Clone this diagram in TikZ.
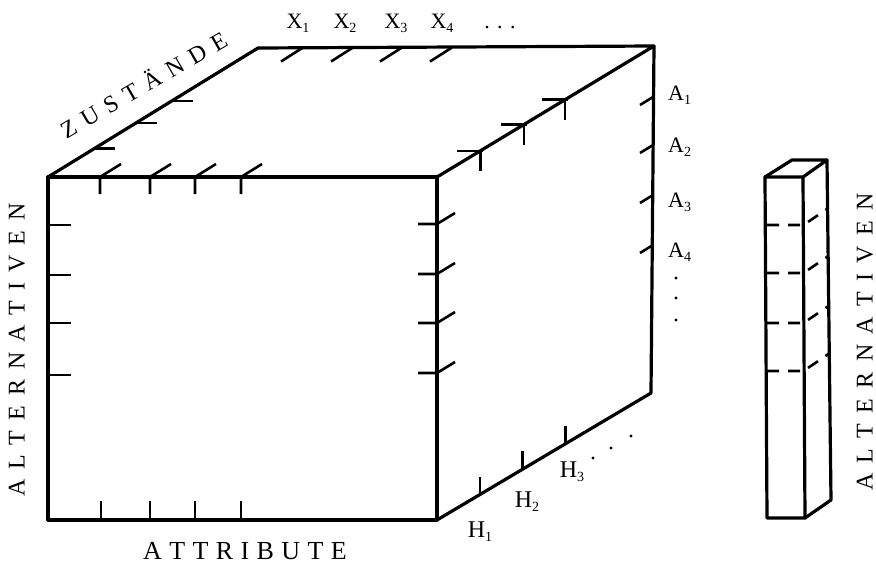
\documentclass[tikz,border=0pt]{standalone}
\usepackage{fontspec}
\setmainfont{Liberation Serif}
\usetikzlibrary{calc}
\newdimen\trk
\def\tracked#1{\trackedi#1\relax\unkern}
\def\trackedi#1{\ifx#1\relax\else#1\kern\trk\expandafter\trackedi\fi}
\newcommand\subs[1]{\raisebox{-4pt}{\fontsize{14}{14}\selectfont#1}}
\begin{document}
\begin{tikzpicture}[x=1pt,y=-1pt,
  edge/.style={line width=3.2pt,line join=round,line cap=round},
  tick/.style={line width=2.6pt,line join=round},
  dashedline/.style={line width=2.6pt,dash pattern=on 12pt off 9pt},
  lbl/.style={font=\fontsize{22}{22}\selectfont,inner sep=0pt},
  hlbl/.style={font=\fontsize{24}{24}\selectfont,inner sep=0pt},
  title/.style={font=\fontsize{24}{24}\selectfont,inner sep=0pt},
  dotmark/.style={fill=black,circle,inner sep=0pt,minimum size=3.4pt}]
\useasboundingbox (0,0) rectangle (876,563);
% cube corners
\coordinate (FTL) at (48,177);
\coordinate (FTR) at (437,177);
\coordinate (FBL) at (48,520);
\coordinate (FBR) at (437,520);
\coordinate (BTL) at (258,48);
\coordinate (BTR) at (654,46);
\coordinate (BBR) at (651,393);
% cube faces
\draw[edge] (FTL) -- (FTR) -- (FBR) -- (FBL) -- cycle;
\draw[edge] (FTL) -- (BTL) -- (BTR) -- (FTR);
\draw[edge] (BTR) -- (BBR) -- (FBR);
% front top ticks
\foreach \x in {100,150,195,241}
  \draw[tick] (\x,194) -- (\x,177) -- ++(21,-13);
% front bottom ticks
\foreach \x in {101,150,195,241}
  \draw[tick] (\x,520) -- (\x,501);
% front left ticks
\foreach \y in {225,275,323,375}
  \draw[tick] (48,\y) -- (71,\y);
% front right ticks
\foreach \y in {224,274,323,373}
  \draw[tick] (418,\y) -- (437,\y) -- ++(18,-11);
% top-left depth edge ticks
\foreach \f in {0.22,0.42,0.59}
  \draw[tick] ($(FTL)!\f!(BTL)$) -- ++(21,0);
% top-right depth edge ticks
\foreach \f in {0.2,0.4,0.59}{
  \draw[tick] ($(FTR)!\f!(BTR)$) ++(-23,0) -- ++(26,0);
  \draw[tick] ($(FTR)!\f!(BTR)$) -- ++(0,20);
}
% bottom-right depth edge ticks
\foreach \f in {0.2,0.4,0.6}
  \draw[tick] ($(FBR)!\f!(BBR)$) -- ++(0,-18);
% back top ticks
\foreach \x in {303,353,402,452}
  \draw[tick] (\x,47.5) -- ++(-22,14);
% back right ticks
\foreach \y in {97,145,195,245}
  \draw[tick] (653,\y) -- ++(-13,8);
% X labels
\node[lbl,anchor=base] (x1) at (298,28) {X\subs{1}};
\node[lbl,anchor=base] (x2) at (345,28) {X\subs{2}};
\node[lbl,anchor=base] (x3) at (396,28) {X\subs{3}};
\node[lbl,anchor=base] (x4) at (442,28) {X\subs{4}};
\node[lbl,anchor=base] (xd) at (500,28) {.\,\,.\,\,.};
% A labels
\node[lbl,anchor=base west] (a1) at (668,100) {A\subs{1}};
\node[lbl,anchor=base west] (a2) at (668,152) {A\subs{2}};
\node[lbl,anchor=base west] (a3) at (668,207) {A\subs{3}};
\node[lbl,anchor=base west] (a4) at (668,257) {A\subs{4}};
\node[dotmark] (ad1) at (676,278) {};
\node[dotmark] (ad2) at (676,298) {};
\node[dotmark] (ad3) at (676,320) {};
% H labels
\node[hlbl,anchor=base] (h1) at (480,537) {H\subs{1}};
\node[hlbl,anchor=base] (h2) at (527,507) {H\subs{2}};
\node[hlbl,anchor=base] (h3) at (572,477) {H\subs{3}};
\node[dotmark] (hd1) at (593,458) {};
\node[dotmark] (hd2) at (611,448) {};
\node[dotmark] (hd3) at (631,436) {};
% axis titles
\node[title,rotate=30] (zus) at (143,84) {\trk=8.8pt\tracked{ZUSTÄNDE}};
\node[title,font=\fontsize{26}{26}\selectfont] (att) at (245,551) {\trk=7.4pt\tracked{ATTRIBUTE}};
\node[title,rotate=90] (altl) at (17,350) {\trk=10pt\tracked{ALTERNATIVEN}};
\node[title,rotate=90] (altr) at (865,342) {\trk=10.3pt\tracked{ALTERNATIVEN}};
% small column
\coordinate (CFTL) at (765,177);
\coordinate (CFTR) at (803,177);
\coordinate (CFBL) at (767,518);
\coordinate (CFBR) at (805,518);
\coordinate (CBTL) at (792,160);
\coordinate (CBTR) at (827,160);
\coordinate (CBBR) at (831,500);
\draw[edge] (CFTL) -- (CFTR) -- (CFBR) -- (CFBL) -- cycle;
\draw[edge] (CFTL) -- (CBTL) -- (CBTR) -- (CFTR);
\draw[edge] (CBTR) -- (CBBR) -- (CFBR);
\foreach \y in {225,273,323,371}
  \draw[dashedline] (767,\y) -- (803.5,\y) -- ++(25,-17);
\end{tikzpicture}
\end{document}
